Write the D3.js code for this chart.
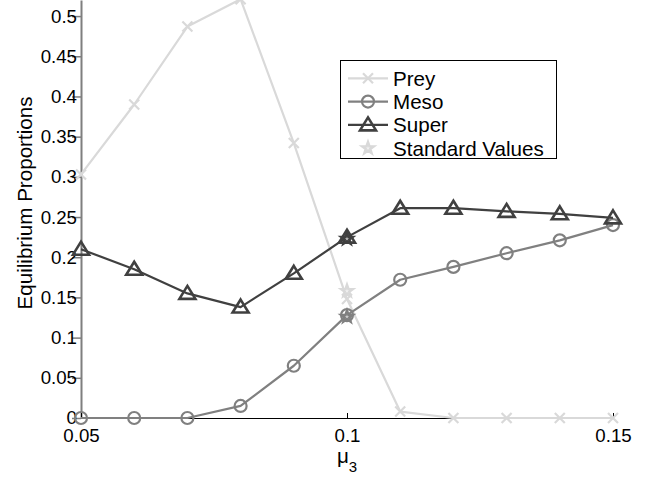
<!DOCTYPE html>
<html>
<head>
<meta charset="utf-8">
<script src="https://cdn.jsdelivr.net/npm/d3@7"></script>
<style>
  html, body { margin: 0; padding: 0; background: #fff; }
  svg { display: block; font-family: "Liberation Sans", Arial, Helvetica, sans-serif; }
</style>
</head>
<body>
<svg id="chart" width="654" height="478"></svg>
<script>
// Death rate of the super predator (x axis)
const mu3 = [0.05, 0.06, 0.07, 0.08, 0.09, 0.10, 0.11, 0.12, 0.13, 0.14, 0.15];

// Equilibrium proportions of each population
const prey  = [0.303, 0.390, 0.487, 0.521, 0.342, 0.148, 0.008, 0.000, 0.000, 0.000, 0.000];
const meso  = [0.000, 0.000, 0.000, 0.015, 0.065, 0.128, 0.172, 0.188, 0.205, 0.221, 0.240];
const superP = [0.210, 0.185, 0.155, 0.138, 0.180, 0.225, 0.261, 0.261, 0.257, 0.254, 0.249];

// Equilibrium at the standard parameter values (mu3 = 0.1)
const standardMu3 = 0.1;
const standardValues = [0.158, 0.126, 0.223]; // prey, meso, super

const xTicks = [0.05, 0.1, 0.15];
const xTickLabels = ["0.05", "0.1", "0.15"];
const yTicks = [0, 0.05, 0.1, 0.15, 0.2, 0.25, 0.3, 0.35, 0.4, 0.45, 0.5];
const yTickLabels = ["0", "0.05", "0.1", "0.15", "0.2", "0.25", "0.3", "0.35", "0.4", "0.45", "0.5"];

const seriesNames = ["Prey", "Meso", "Super"];
const seriesColors = ["#d9d9d9", "#808080", "#404040"];
const seriesMarkers = ["cross", "circle", "triangle"];

const svg = d3.select("#chart");

const x = d3.scaleLinear().domain([0.05, 0.15]).range([81, 613]);
const y = d3.scaleLinear().domain([0, 0.52]).range([418, 0]);

// marker shapes, centred on the data point
function markerPath(kind) {
  if (kind === "cross") return "M-5,-5L5,5M-5,5L5,-5";
  if (kind === "triangle") return "M0,-7.5L8,5.5L-8,5.5Z";
  if (kind === "star") {
    const R = 7.5, r = R * 0.4, pts = [];
    for (let i = 0; i < 10; i++) {
      const a = -Math.PI / 2 + i * Math.PI / 5;
      const rr = i % 2 === 0 ? R : r;
      pts.push([rr * Math.cos(a), rr * Math.sin(a)]);
    }
    return "M" + pts.map(p => p[0].toFixed(2) + "," + p[1].toFixed(2)).join("L") + "Z";
  }
  return null;
}

function drawMarker(g, kind, color, cx, cy) {
  if (kind === "circle") {
    g.append("circle").attr("cx", cx).attr("cy", cy).attr("r", 6)
      .attr("fill", "none").attr("stroke", color).attr("stroke-width", 2.2);
  } else if (kind === "star") {
    g.append("path").attr("transform", `translate(${cx},${cy})`)
      .attr("d", markerPath(kind))
      .attr("fill", color).attr("stroke", color).attr("stroke-width", 1.6)
      .attr("stroke-linejoin", "miter");
    // thin light core of the pentagram outline
    g.append("path").attr("transform", `translate(${cx},${cy}) scale(0.3)`)
      .attr("d", markerPath(kind))
      .attr("fill", "#fff").attr("fill-opacity", 0.6);
  } else {
    g.append("path").attr("transform", `translate(${cx},${cy})`)
      .attr("d", markerPath(kind))
      .attr("fill", "none").attr("stroke", color)
      .attr("stroke-width", kind === "triangle" ? 2.6 : 2.2)
      .attr("stroke-linejoin", "miter");
  }
}

// y axis (ticks pointing outward, grey spine)
const yAxis = d3.axisLeft(y)
  .tickValues(yTicks)
  .tickFormat((d, i) => yTickLabels[i])
  .tickSizeInner(9).tickSizeOuter(0).tickPadding(-5);
const gy = svg.append("g").attr("transform", `translate(${x(0.05)},0)`).call(yAxis);
gy.select(".domain").attr("stroke", "#7f7f7f").attr("stroke-width", 2);
gy.selectAll(".tick line").attr("stroke", "#7f7f7f").attr("stroke-width", 1.5);
gy.selectAll(".tick text").attr("fill", "#000").attr("font-size", 18.7)
  .attr("font-family", "Liberation Sans, Arial, sans-serif");

// x axis along y = 0 (ticks pointing inward)
const xAxis = d3.axisBottom(x)
  .tickValues(xTicks)
  .tickFormat((d, i) => xTickLabels[i])
  .tickSizeInner(-5).tickSizeOuter(0).tickPadding(10.7);
const gx = svg.append("g").attr("transform", `translate(0,${y(0)})`).call(xAxis);
gx.select(".domain").attr("stroke", "#000").attr("stroke-width", 1);
gx.selectAll(".tick line").attr("stroke", "#000");
gx.selectAll(".tick text").attr("fill", "#000").attr("font-size", 18.7)
  .attr("font-family", "Liberation Sans, Arial, sans-serif");

// series lines and markers
const allSeries = [prey, meso, superP];
const line = d3.line().x((d, i) => x(mu3[i])).y(d => y(d));
allSeries.forEach((vals, s) => {
  const g = svg.append("g").attr("class", "series-" + seriesNames[s]);
  g.append("path").datum(vals).attr("d", line)
    .attr("fill", "none").attr("stroke", seriesColors[s]).attr("stroke-width", 2.2)
    .attr("stroke-linejoin", "round");
  vals.forEach((v, i) => drawMarker(g, seriesMarkers[s], seriesColors[s], x(mu3[i]), y(v)));
});

// standard-value stars
const gStars = svg.append("g").attr("class", "standard");
standardValues.forEach((v, s) => drawMarker(gStars, "star", seriesColors[s], x(standardMu3), y(v)));

// axis labels
svg.append("text")
  .attr("transform", `translate(31.5,203) rotate(-90)`)
  .attr("text-anchor", "middle").attr("font-size", 20.6).attr("fill", "#000")
  .text("Equilibrium Proportions");

const xl = svg.append("text").attr("x", x(0.1)).attr("y", 463)
  .attr("text-anchor", "middle").attr("font-size", 20.6).attr("fill", "#000");
xl.append("tspan").text("μ");
xl.append("tspan").attr("font-size", 15).attr("dy", 8.5).text("3");

// legend
const legendNames = ["Prey", "Meso", "Super", "Standard Values"];
const legendColors = [seriesColors[0], seriesColors[1], seriesColors[2], seriesColors[0]];
const legendMarkers = ["cross", "circle", "triangle", "star"];
const lg = svg.append("g").attr("class", "legend");
lg.append("rect").attr("x", 340.5).attr("y", 60.5).attr("width", 216).attr("height", 98)
  .attr("fill", "#fff").attr("stroke", "#000").attr("stroke-width", 1);
legendNames.forEach((name, i) => {
  const ry = 78.3 + i * 23.3;
  if (legendMarkers[i] !== "star") {
    lg.append("line").attr("x1", 348).attr("x2", 388).attr("y1", ry).attr("y2", ry)
      .attr("stroke", legendColors[i]).attr("stroke-width", 2.2);
  }
  drawMarker(lg, legendMarkers[i], legendColors[i], 368, ry);
  lg.append("text").attr("x", 393).attr("y", ry + 7.4)
    .attr("font-size", 20.6).attr("fill", "#000").text(name);
});
</script>
</body>
</html>
